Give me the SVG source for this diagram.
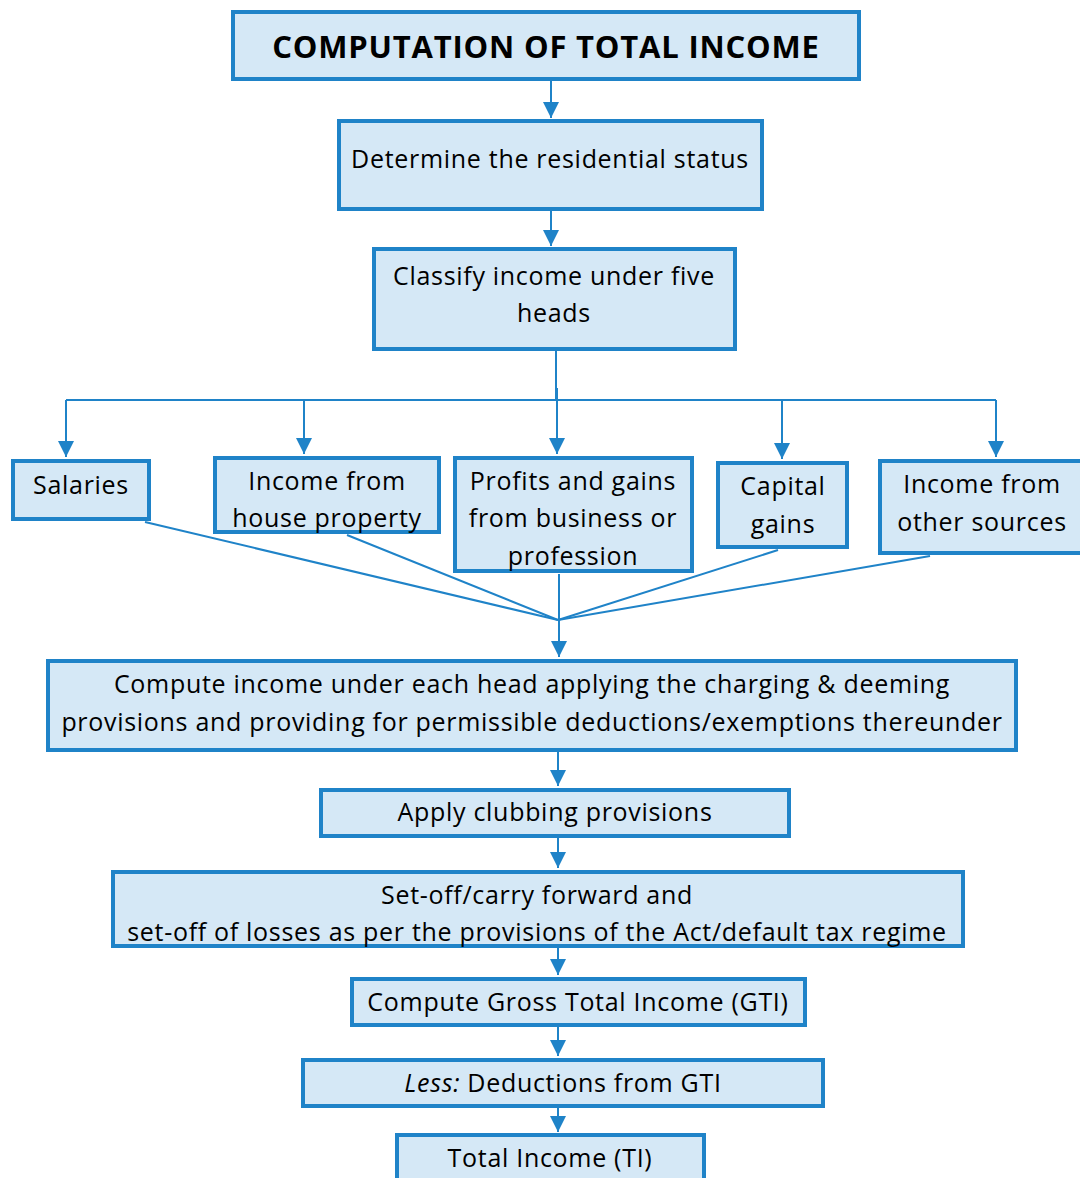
<svg xmlns="http://www.w3.org/2000/svg" width="1080" height="1178" viewBox="0 0 1080 1178">
<style>
.box{fill:#d5e8f6;stroke:#1f83c8;stroke-width:4}
.t{font-family:"Open Sans","Noto Sans","DejaVu Sans",sans-serif;font-size:25px;letter-spacing:0.7px;fill:#000;text-anchor:middle}
.title{font-family:"Open Sans","Noto Sans","DejaVu Sans",sans-serif;font-size:31px;letter-spacing:0.8px;font-weight:bold;fill:#000;text-anchor:middle}
.c{fill:none;stroke:#1f83c8;stroke-width:2}
</style>
<defs>
<marker id="ah" markerUnits="userSpaceOnUse" markerWidth="16" markerHeight="16" viewBox="0 0 16 16" refX="16" refY="8" orient="auto">
<path d="M0,0 L16,8 L0,16 Z" fill="#1f83c8"/>
</marker>
</defs>
<rect width="1080" height="1178" fill="#fff"/>
<g id="connectors">
<line class="c" x1="551" y1="80" x2="551" y2="118" marker-end="url(#ah)"/>
<line class="c" x1="551" y1="211" x2="551" y2="246" marker-end="url(#ah)"/>
<line class="c" x1="556" y1="351" x2="556" y2="400"/>
<line class="c" x1="66" y1="400" x2="996" y2="400"/>
<line class="c" x1="66" y1="400" x2="66" y2="457" marker-end="url(#ah)"/>
<line class="c" x1="304" y1="400" x2="304" y2="454" marker-end="url(#ah)"/>
<line class="c" x1="557" y1="388" x2="557" y2="454" marker-end="url(#ah)"/>
<line class="c" x1="782" y1="400" x2="782" y2="459" marker-end="url(#ah)"/>
<line class="c" x1="996" y1="400" x2="996" y2="457" marker-end="url(#ah)"/>
<line class="c" x1="145" y1="522" x2="558" y2="620"/>
<line class="c" x1="347" y1="535" x2="558" y2="620"/>
<line class="c" x1="778" y1="550" x2="558" y2="620"/>
<line class="c" x1="930" y1="556" x2="558" y2="620"/>
<line class="c" x1="559" y1="574" x2="559" y2="620"/>
<line class="c" x1="559" y1="620" x2="559" y2="657" marker-end="url(#ah)"/>
<line class="c" x1="558" y1="752" x2="558" y2="786" marker-end="url(#ah)"/>
<line class="c" x1="558" y1="838" x2="558" y2="868" marker-end="url(#ah)"/>
<line class="c" x1="558" y1="948" x2="558" y2="975" marker-end="url(#ah)"/>
<line class="c" x1="558" y1="1027" x2="558" y2="1056" marker-end="url(#ah)"/>
<line class="c" x1="558" y1="1108" x2="558" y2="1132" marker-end="url(#ah)"/>
</g>
<g id="title"><rect class="box" x="233" y="12" width="626" height="67"/><text class="title" x="546" y="58">COMPUTATION OF TOTAL INCOME</text></g>
<g id="residential"><rect class="box" x="339" y="121" width="423" height="88"/><text class="t" x="550" y="168">Determine the residential status</text></g>
<g id="classify"><rect class="box" x="374" y="249" width="361" height="100"/><text class="t" x="554" y="285">Classify income under five</text><text class="t" x="554" y="322">heads</text></g>
<g id="salaries"><rect class="box" x="13" y="461" width="136" height="58"/><text class="t" x="81" y="494">Salaries</text></g>
<g id="house"><rect class="box" x="215" y="458" width="224" height="74"/><text class="t" x="327" y="490">Income from</text><text class="t" x="327" y="527">house property</text></g>
<g id="business"><rect class="box" x="455" y="458" width="237" height="113"/><text class="t" x="573" y="490">Profits and gains</text><text class="t" x="573" y="527">from business or</text><text class="t" x="573" y="565">profession</text></g>
<g id="capital"><rect class="box" x="718" y="463" width="129" height="84"/><text class="t" x="783" y="495">Capital</text><text class="t" x="783" y="533">gains</text></g>
<g id="other"><rect class="box" x="880" y="461" width="210" height="92"/><text class="t" x="982" y="493">Income from</text><text class="t" x="982" y="531">other sources</text></g>
<g id="compute"><rect class="box" x="48" y="661" width="968" height="89"/><text class="t" x="532" y="693">Compute income under each head applying the charging &amp; deeming</text><text class="t" x="532" y="731">provisions and providing for permissible deductions/exemptions thereunder</text></g>
<g id="clubbing"><rect class="box" x="321" y="790" width="468" height="46"/><text class="t" x="555" y="821">Apply clubbing provisions</text></g>
<g id="setoff"><rect class="box" x="113" y="872" width="850" height="74"/><text class="t" x="537" y="904">Set-off/carry forward and</text><text class="t" x="537" y="941">set-off of losses as per the provisions of the Act/default tax regime</text></g>
<g id="gti"><rect class="box" x="352" y="979" width="453" height="46"/><text class="t" x="578" y="1011">Compute Gross Total Income (GTI)</text></g>
<g id="less"><rect class="box" x="303" y="1060" width="520" height="46"/><text class="t" x="563" y="1092"><tspan font-style="italic">Less:</tspan> Deductions from GTI</text></g>
<g id="total"><rect class="box" x="397" y="1135" width="307" height="60"/><text class="t" x="550" y="1167">Total Income (TI)</text></g>
</svg>
